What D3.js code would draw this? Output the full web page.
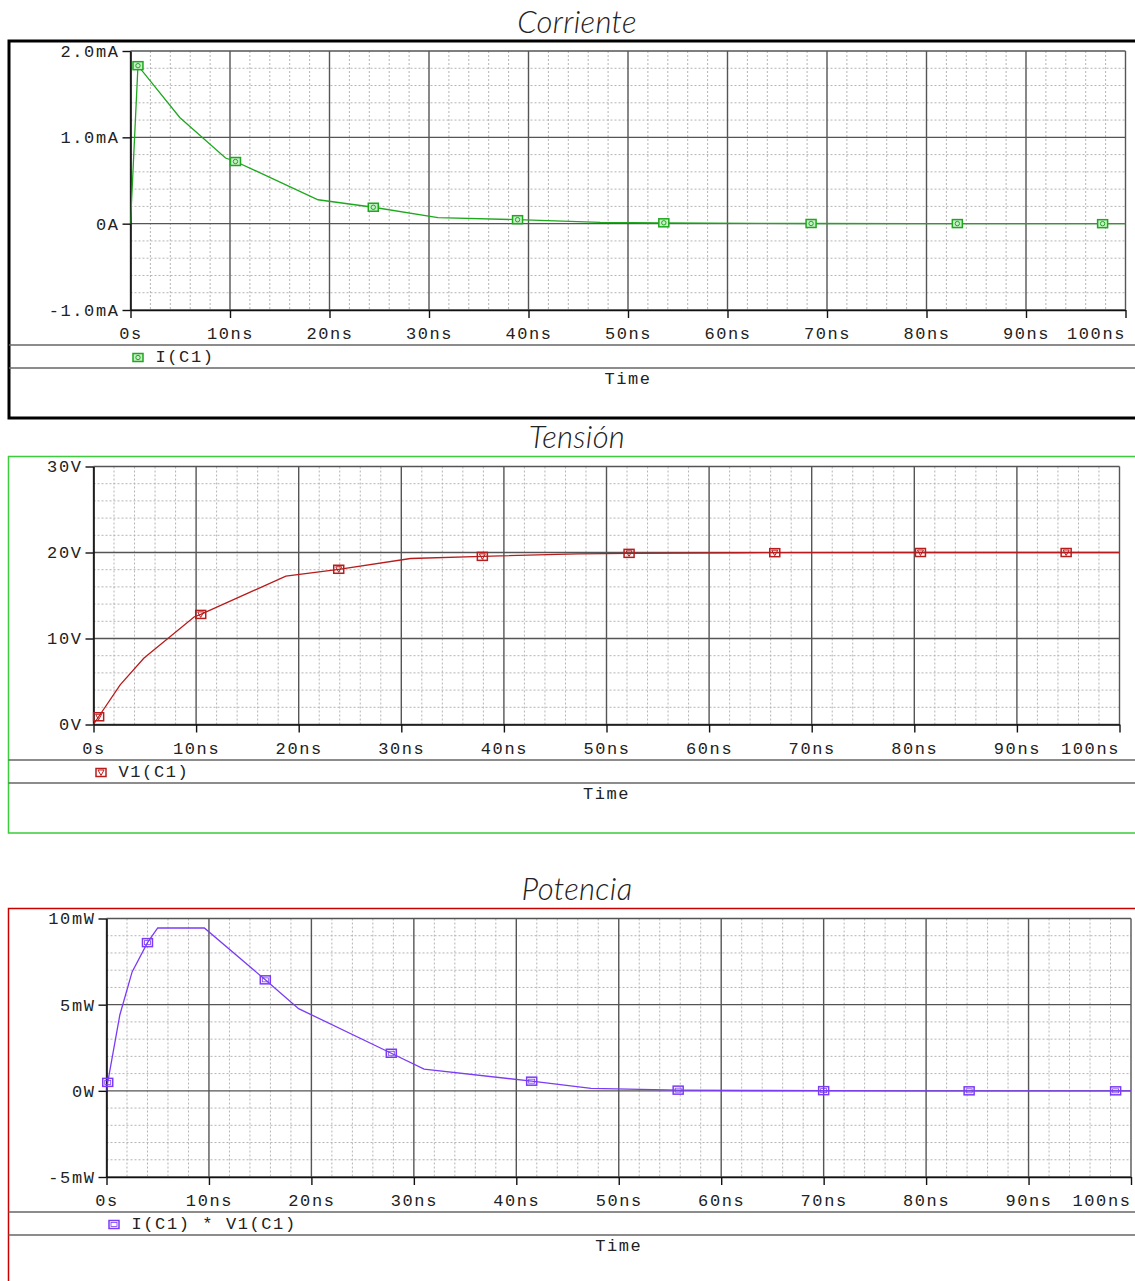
<!DOCTYPE html>
<html>
<head>
<meta charset="utf-8">
<script src="https://cdn.jsdelivr.net/npm/d3@7"></script>
<style>
  html, body { margin: 0; padding: 0; background: #fff; }
  svg { display: block; }
  .mono { font-family: "Liberation Mono", "DejaVu Sans Mono", monospace; font-size: 17px; letter-spacing: 1.6px; fill: #222; }
  .title { font-family: Lato, "Liberation Sans", Arial, sans-serif; font-style: italic; font-weight: 300; font-size: 31px; letter-spacing: 0.3px; fill: #222; }
</style>
</head>
<body>
<svg id="chart" width="1135" height="1281"></svg>
<script>
// Shared time axis (ns)
const timeTicks = [0, 10, 20, 30, 40, 50, 60, 70, 80, 90, 100];
const timeTickLabels = ["0s", "10ns", "20ns", "30ns", "40ns", "50ns", "60ns", "70ns", "80ns", "90ns", "100ns"];

// I(C1) in mA
const currentTicks = [-1, 0, 1, 2];
const currentTickLabels = ["-1.0mA", "0A", "1.0mA", "2.0mA"];
const currentTime = [0, 0.75, 4.95, 9.55, 10.55, 18.85, 24.4, 30.9, 38.9, 47.2, 53.6, 63, 68.4, 79, 83.1, 95, 97.7, 100];
const currentValues = [0, 1.83, 1.23, 0.76, 0.72, 0.277, 0.19, 0.07, 0.046, 0.016, 0.01, 0.003, 0.002, 0.001, 0.001, 0, 0, 0];
const currentMarkers = [1, 4, 6, 8, 10, 12, 14, 16];

// V1(C1) in V
const voltageTicks = [0, 10, 20, 30];
const voltageTickLabels = ["0V", "10V", "20V", "30V"];
const voltageTime = [0, 0.5, 2.6, 4.9, 9.8, 10.45, 18.75, 23.9, 30.9, 37.9, 47.2, 52.2, 63, 66.4, 79, 80.6, 94.8, 100];
const voltageValues = [0, 0.9, 4.6, 7.7, 12.5, 12.8, 17.25, 18.05, 19.3, 19.55, 19.85, 19.9, 19.97, 19.98, 20, 20, 20, 20];
const voltageMarkers = [1, 5, 7, 9, 11, 13, 15, 16];

// I(C1) * V1(C1) in mW
const powerTicks = [-5, 0, 5, 10];
const powerTickLabels = ["-5mW", "0W", "5mW", "10mW"];
const powerTime = [0, 0.12, 1.3, 2.5, 4.0, 5.0, 9.55, 15.5, 18.75, 27.8, 31.0, 41.5, 47.3, 55.8, 63, 70.0, 79, 84.2, 95, 98.5, 100];
const powerValues = [0, 0.49, 4.4, 6.9, 8.6, 9.45, 9.45, 6.44, 4.77, 2.18, 1.26, 0.56, 0.14, 0.04, 0.02, 0.01, 0, 0, 0, 0, 0];
const powerMarkers = [1, 4, 7, 9, 11, 13, 15, 17, 19];

const svg = d3.select("#chart");

function drawMarker(g, kind, cx, cy, color) {
  const m = g.append("g").attr("transform", `translate(${cx},${cy})`);
  m.append("rect").attr("x", -5).attr("y", -4).attr("width", 10).attr("height", 8)
    .attr("fill", kind === "circle" ? "#c8f0c8" : "none")
    .attr("stroke", color).attr("stroke-width", 1.5);
  if (kind === "circle") {
    m.append("circle").attr("r", 2.2).attr("fill", "none").attr("stroke", color).attr("stroke-width", 1);
  } else if (kind === "triangle") {
    m.append("path").attr("d", "M-3,-2.5 L3,-2.5 L0,3 Z").attr("fill", "none").attr("stroke", color).attr("stroke-width", 1);
  } else {
    m.append("rect").attr("x", -3).attr("y", -2).attr("width", 6).attr("height", 4)
      .attr("fill", "none").attr("stroke", color).attr("stroke-width", 0.8);
  }
}

function panel(cfg) {
  const g = svg.append("g");
  const x = d3.scaleLinear().domain([0, 100]).range([cfg.left, cfg.right]);
  const y = d3.scaleLinear().domain([cfg.yTicks[0], cfg.yTicks[cfg.yTicks.length - 1]]).range([cfg.bottom, cfg.top]);

  // outer frame
  g.append("path")
    .attr("d", `M1160,${cfg.frameTop} L${cfg.frameLeft},${cfg.frameTop} L${cfg.frameLeft},${cfg.frameBottom} L1160,${cfg.frameBottom}`)
    .attr("fill", "none").attr("stroke", cfg.frameColor).attr("stroke-width", cfg.frameWidth);

  // title
  g.append("text").attr("class", "title").attr("x", 577).attr("y", cfg.titleY)
    .attr("text-anchor", "middle").text(cfg.title);

  // minor grid
  const yStep = cfg.yTicks[1] - cfg.yTicks[0];
  const minorX = d3.range(0, 100.001, 2).filter(v => Math.abs(v % 10) > 1e-6);
  const minorY = d3.range(cfg.yTicks[0], cfg.yTicks[cfg.yTicks.length - 1] + 1e-6, yStep / 5)
    .filter(v => Math.abs(((v - cfg.yTicks[0]) / yStep) - Math.round((v - cfg.yTicks[0]) / yStep)) > 1e-6);
  g.append("g").selectAll("line").data(minorX).join("line")
    .attr("x1", d => x(d)).attr("x2", d => x(d)).attr("y1", cfg.top).attr("y2", cfg.bottom)
    .attr("stroke", "#b4b4b4").attr("stroke-width", 1).attr("stroke-dasharray", "2,2");
  g.append("g").selectAll("line").data(minorY).join("line")
    .attr("x1", cfg.left).attr("x2", cfg.right).attr("y1", d => y(d)).attr("y2", d => y(d))
    .attr("stroke", "#b4b4b4").attr("stroke-width", 1).attr("stroke-dasharray", "2,2");

  // major grid
  g.append("g").selectAll("line").data(timeTicks).join("line")
    .attr("x1", d => x(d)).attr("x2", d => x(d)).attr("y1", cfg.top).attr("y2", cfg.bottom)
    .attr("stroke", "#555").attr("stroke-width", 1.4);
  g.append("g").selectAll("line").data(cfg.yTicks).join("line")
    .attr("x1", cfg.left).attr("x2", cfg.right).attr("y1", d => y(d)).attr("y2", d => y(d))
    .attr("stroke", "#555").attr("stroke-width", 1.4);

  // axes
  const xAxis = d3.axisBottom(x).tickValues(timeTicks)
    .tickFormat((d, i) => timeTickLabels[i]).tickSize(8).tickSizeOuter(0).tickPadding(9);
  const gx = g.append("g").attr("transform", `translate(0,${cfg.bottom})`).call(xAxis);
  gx.select(".domain").attr("stroke", "#111").attr("stroke-width", 1.6);
  gx.selectAll(".tick line").attr("stroke", "#111").attr("stroke-width", 1.4);
  gx.selectAll(".tick text").attr("class", "mono").attr("font-family", null).attr("font-size", null)
    .attr("fill", null).attr("dy", "0.71em");
  gx.selectAll(".tick").filter((d, i) => i === timeTicks.length - 1)
    .select("text").attr("text-anchor", "end").attr("x", 0);

  const yAxis = d3.axisLeft(y).tickValues(cfg.yTicks)
    .tickFormat((d, i) => cfg.yTickLabels[i]).tickSize(8).tickSizeOuter(0).tickPadding(3);
  const gy = g.append("g").attr("transform", `translate(${cfg.left},0)`).call(yAxis);
  gy.select(".domain").attr("stroke", "#111").attr("stroke-width", 1.6);
  gy.selectAll(".tick line").attr("stroke", "#111").attr("stroke-width", 1.4);
  gy.selectAll(".tick text").attr("class", "mono").attr("font-family", null).attr("font-size", null)
    .attr("fill", null);

  // data trace
  const pts = cfg.time.map((t, i) => [t, cfg.values[i]]);
  const clipId = "clip-" + cfg.key;
  g.append("clipPath").attr("id", clipId).append("rect")
    .attr("x", cfg.left).attr("y", cfg.top - 6).attr("width", cfg.right - cfg.left).attr("height", cfg.bottom - cfg.top + 6);
  g.append("path").datum(pts)
    .attr("clip-path", `url(#${clipId})`)
    .attr("d", d3.line().x(d => x(d[0])).y(d => y(d[1])))
    .attr("fill", "none").attr("stroke", cfg.color).attr("stroke-width", 1.3);
  cfg.markers.forEach(i => drawMarker(g, cfg.markerKind, x(pts[i][0]), y(pts[i][1]), cfg.color));

  // legend band
  g.append("line").attr("x1", cfg.frameLeft).attr("x2", 1135).attr("y1", cfg.legendTop).attr("y2", cfg.legendTop)
    .attr("stroke", "#666").attr("stroke-width", 1.6);
  g.append("line").attr("x1", cfg.frameLeft).attr("x2", 1135).attr("y1", cfg.legendBottom).attr("y2", cfg.legendBottom)
    .attr("stroke", "#666").attr("stroke-width", 1.6);
  const ly = (cfg.legendTop + cfg.legendBottom) / 2;
  drawMarker(g, cfg.markerKind, cfg.left + 7.5, ly + 1, cfg.legendColor);
  g.append("text").attr("class", "mono").attr("x", cfg.left + 25).attr("y", ly).attr("dy", "0.35em").text(cfg.legend);
  g.append("text").attr("class", "mono").attr("x", (cfg.left + cfg.right) / 2).attr("y", cfg.legendBottom + 10)
    .attr("dy", "0.35em").attr("text-anchor", "middle").text("Time");
}

panel({
  key: "i", title: "Corriente", titleY: 33,
  frameTop: 41, frameBottom: 418, frameLeft: 9, frameColor: "#000", frameWidth: 3,
  left: 130.5, right: 1125.5, top: 51, bottom: 310,
  yTicks: currentTicks, yTickLabels: currentTickLabels,
  time: currentTime, values: currentValues, markers: currentMarkers,
  color: "#1ea81e", legendColor: "#1ea81e", markerKind: "circle", legend: "I(C1)",
  legendTop: 345, legendBottom: 368
});

panel({
  key: "v", title: "Tensión", titleY: 448,
  frameTop: 456.5, frameBottom: 833, frameLeft: 8.5, frameColor: "#3ccc3c", frameWidth: 1.5,
  left: 93.5, right: 1119.5, top: 466.5, bottom: 724.5,
  yTicks: voltageTicks, yTickLabels: voltageTickLabels,
  time: voltageTime, values: voltageValues, markers: voltageMarkers,
  color: "#b81c1c", legendColor: "#b81c1c", markerKind: "triangle", legend: "V1(C1)",
  legendTop: 760, legendBottom: 783
});

panel({
  key: "p", title: "Potencia", titleY: 900,
  frameTop: 908.5, frameBottom: 1300, frameLeft: 8.5, frameColor: "#c80000", frameWidth: 1.5,
  left: 106.5, right: 1131, top: 918.5, bottom: 1177,
  yTicks: powerTicks, yTickLabels: powerTickLabels,
  time: powerTime, values: powerValues, markers: powerMarkers,
  color: "#7a3cf5", legendColor: "#7a3cf5", markerKind: "square", legend: "I(C1) * V1(C1)",
  legendTop: 1212, legendBottom: 1235
});
</script>
</body>
</html>
